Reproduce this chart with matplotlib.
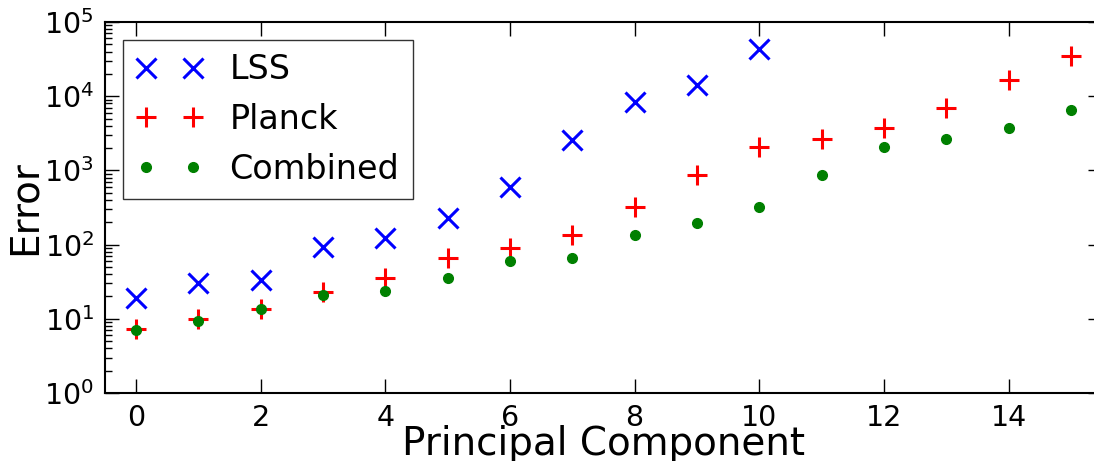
import matplotlib
matplotlib.use('Agg')
import matplotlib.pyplot as plt
from matplotlib.ticker import LogLocator, LogFormatterMathtext, NullFormatter

plt.rcParams['font.family'] = 'DejaVu Sans'
plt.rcParams['mathtext.fontset'] = 'dejavusans'

components = list(range(16))
lss_x = list(range(11))
lss = [19, 30, 33, 92, 124, 226, 592, 2570, 8280, 14150, 42850]
planck = [7.3, 9.8, 13.6, 23.2, 35.5, 65, 89, 135, 324, 867, 2070, 2680, 3770, 6860, 16400, 34800]
combined = [7.1, 9.4, 13.4, 20.9, 23.5, 35.5, 61, 65, 133, 194, 324, 867, 2070, 2680, 3770, 6520]

fig = plt.figure(figsize=(10.94, 4.61), dpi=100)
ax = fig.add_axes([105 / 1094, 68 / 461, 997 / 1094, 371 / 461])

ax.plot(lss_x, lss, 'bx', ms=14, mew=2.2, ls='none', label='LSS')
ax.plot(components, planck, 'r+', ms=15, mew=2.2, ls='none', label='Planck')
ax.plot(components, combined, 'o', color='#008000', mec='#008000', ms=7, ls='none', label='Combined')

ax.set_yscale('log')
ax.set_ylim(1, 1e5)
ax.set_xlim(-0.5, 15.5)
ax.set_xticks(range(0, 16, 2))
ax.yaxis.set_major_locator(LogLocator(base=10))
ax.yaxis.set_major_formatter(LogFormatterMathtext())
ax.yaxis.set_minor_formatter(NullFormatter())

ax.tick_params(which='both', direction='in', top=True, right=True, labelsize=20.5, width=1)
ax.tick_params(which='major', length=10, pad=8)
ax.tick_params(which='minor', length=5)
for s in ax.spines.values():
    s.set_linewidth(1.5)

ax.set_xlabel('Principal Component', fontsize=28, labelpad=-5)
ax.set_ylabel('Error', fontsize=28, labelpad=0)

leg = ax.legend(loc='upper left', bbox_to_anchor=(0.018, 0.9515), borderaxespad=0,
                numpoints=2, fontsize=24, fancybox=False, handlelength=2.0,
                handletextpad=0.8, labelspacing=0.5, borderpad=0.4)
leg.get_frame().set_edgecolor('black')
leg.get_frame().set_linewidth(1)

fig.savefig('out.png', dpi=100)
